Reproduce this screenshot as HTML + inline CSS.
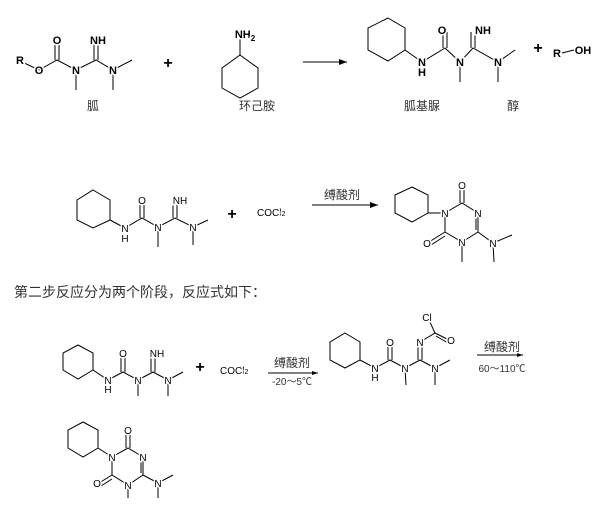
<!DOCTYPE html>
<html><head><meta charset="utf-8"><style>
html,body{margin:0;padding:0;background:#fff;width:600px;height:517px;overflow:hidden}
svg text{font-family:"Liberation Sans","Noto Sans CJK SC",sans-serif;paint-order:stroke;stroke:#fff;stroke-width:3px}
.b{font-weight:bold}
.cj{font-family:"Liberation Sans","Noto Sans CJK SC",sans-serif;stroke:none;fill:#333}
</style></head><body>
<svg width="600" height="517" viewBox="0 0 600 517" xmlns="http://www.w3.org/2000/svg">
<g stroke="#000" stroke-width="1" fill="none">
<path d="M22,62 L39,70 L57,60 L76,70 L96,60 L113,70 L132,60 M76,70 L76,90 M113,70 L113,90 M55,60 L55,40 M59,60 L59,40 M94,60 L94,40 M98,60 L98,40"/>
<path d="M240,55 L258,68 L258,88 L240,98 L222,88 L222,68 Z M240,55 L240,38"/>
<line x1="303" y1="62" x2="347" y2="62"/>
<path d="M388,18 L405,28 L405,50 L388,61 L368,50 L368,28 Z M405,50 L422,62 L445,48 L460,62 L473,48 L498,62 L515,50 M460,62 L460,82 M498,62 L498,82 M443,48 L443,32 M447,48 L447,32 M471,48 L471,32 M475,48 L475,32"/>
<path d="M93,190 L110,200 L110,220 L93,228 L77,220 L77,200 Z M110,220 L125,228 L142,218 L158,227 L175,218 L193,227 L208,220 M158,227 L158,247 M193,227 L193,245 M140,218 L140,202 M144,218 L144,202 M173,218 L173,202 M177,218 L177,202"/>
<line x1="312" y1="205" x2="378" y2="205"/>
<path d="M412,187 L428,195 L428,213 L412,222 L395,213 L395,195 Z M428,213 L445,213 M445,213 L462,203 L478,213 L478,232 L462,242 L445,232 Z M460,203 L460,186 M464,203 L464,186 M445,232 L429,242 M445,236 L431,245 M476,215 L476,230 M478,232 L493,243 L512,235 M493,243 L494,262 M462,242 L462,262"/>
<!-- S3 reactant -->
<path d="M78,345 L93,353 L93,370 L78,379 L63,370 L63,353 Z M93,370 L108,380 L123,372 L138,380 L153,372 L168,380 L183,372 M138,380 L138,396 M168,380 L168,396 M121,372 L121,356 M125,372 L125,356 M151,372 L151,356 M155,372 L155,356"/>
<line x1="268" y1="373" x2="318" y2="373"/>
<!-- intermediate -->
<path d="M345,333 L360,342 L360,360 L345,368 L330,360 L330,342 Z M360,360 L375,368 L390,360 L405,368 L420,360 L435,368 L450,360 M405,368 L406,385 M435,368 L435,385 M388,360 L388,345 M392,360 L392,345 M418,360 L418,345 M422,360 L422,345 M420,342 L435,333 L429,320 M435,333 L449,340 M436,336 L448,343"/>
<line x1="477" y1="355" x2="523" y2="355"/>
<!-- final -->
<path d="M83,422 L98,430 L98,448 L83,457 L68,448 L68,430 Z M98,448 L112,457 M112,457 L128,448 L143,457 L143,475 L128,485 L112,475 Z M126,448 L126,432 M130,448 L130,432 M141,459 L141,473 M112,475 L99,483 M112,479 L101,486 M128,485 L128,498 M143,475 L158,483 L173,475 M158,483 L158,498"/>
</g>
<g fill="#000">
<polygon points="347,62 339,59 339,65"/>
<polygon points="378,205 370,202 370,208"/>
<polygon points="318,373 312,371 312,375"/>
<polygon points="523,355 517,353 517,357"/>
</g>
<g font-size="11" class="b" text-anchor="middle">
<text x="20" y="64">R</text><text x="39" y="74">O</text><text x="57" y="44">O</text>
<text x="76" y="74">N</text><text x="98" y="44">NH</text><text x="113" y="74">N</text>
<text x="245" y="38">NH<tspan font-size="8" dy="3">2</tspan></text>
<text x="442" y="34">O</text><text x="422" y="66">N</text><text x="422" y="76">H</text>
<text x="460" y="66">N</text><text x="483" y="34">NH</text><text x="498" y="66">N</text>
<text x="557" y="57">R</text><text x="583" y="54">OH</text>
</g>
<line x1="562" y1="53" x2="574" y2="50" stroke="#000"/>
<g font-size="16" class="b" text-anchor="middle"><text x="168" y="68">+</text><text x="538" y="53">+</text><text x="232" y="219">+</text><text x="200" y="372">+</text></g>
<g font-size="10" text-anchor="middle">
<text x="142" y="204">O</text><text x="125" y="232">N</text><text x="125" y="242">H</text><text x="158" y="231">N</text>
<text x="180" y="204">NH</text><text x="193" y="231">N</text>
<text x="462" y="189">O</text><text x="445" y="217">N</text><text x="478" y="217">N</text><text x="462" y="246">N</text>
<text x="427" y="247">O</text><text x="493" y="247">N</text>
<text x="123" y="357">O</text><text x="108" y="384">N</text><text x="108" y="393">H</text><text x="138" y="384">N</text>
<text x="157" y="357">NH</text><text x="168" y="384">N</text>
<text x="390" y="346">O</text><text x="375" y="372">N</text><text x="375" y="381">H</text><text x="405" y="372">N</text>
<text x="420" y="346">N</text><text x="427" y="321">Cl</text><text x="451" y="344">O</text><text x="435" y="372">N</text>
<text x="128" y="434">O</text><text x="112" y="461">N</text><text x="143" y="461">N</text><text x="128" y="489">N</text>
<text x="97" y="487">O</text><text x="158" y="487">N</text>
</g>
<g font-size="10"><text x="257" y="216">COCl<tspan font-size="7">2</tspan></text><text x="220" y="374">COCl<tspan font-size="7">2</tspan></text></g>
<g font-size="12" text-anchor="middle" class="cj">
<text x="93" y="110">胍</text><text x="257" y="110">环己胺</text>
<text x="422" y="110">胍基脲</text><text x="513" y="110">醇</text>
<text x="342" y="199">缚酸剂</text>
<text x="292" y="367">缚酸剂</text><text x="292" y="385" font-size="10">-20～5℃</text>
<text x="502" y="351">缚酸剂</text><text x="502" y="372" font-size="10">60～110℃</text>
</g>
<text x="14" y="297" font-size="14" class="cj">第二步反应分为两个阶段，反应式如下：</text>
</svg>
</body></html>
